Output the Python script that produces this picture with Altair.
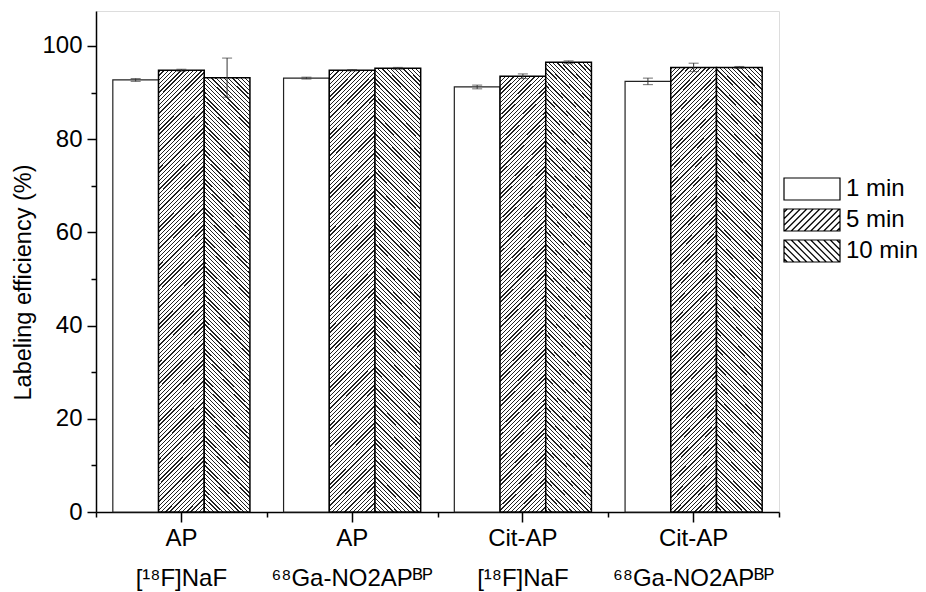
import altair as alt
import pandas as pd

# ---------------- data ----------------
groups = ["AP|[¹⁸F]NaF", "AP|⁶⁸Ga-NO2APᴮᴾ", "Cit-AP|[¹⁸F]NaF", "Cit-AP|⁶⁸Ga-NO2APᴮᴾ"]
series = ["1 min", "5 min", "10 min"]
eff_1 = [92.7, 93.1, 91.2, 92.4]
eff_5 = [94.8, 94.8, 93.5, 95.4]
eff_10 = [93.2, 95.2, 96.5, 95.4]
err_1 = [0.3, 0.2, 0.4, 0.7]
err_5 = [0.2, 0.15, 0.5, 0.9]
err_10 = [4.2, 0.2, 0.3, 0.2]
y_ticks = [0, 20, 40, 60, 80, 100]
y_minor = [10, 30, 50, 70, 90]

rows = []
for s, vals, errs in zip(series, [eff_1, eff_5, eff_10], [err_1, err_5, err_10]):
    for g, v, e in zip(groups, vals, errs):
        rows.append({"group": g, "series": s, "value": v, "lo": v - e, "hi": v + e})
df = pd.DataFrame(rows)

FONT = "Liberation Sans, Arial, DejaVu Sans"
FS = 24


# ---------------- hatch styles ----------------
def hatch_gradient(backslash, w=45.7, h=440.0, spacing=4.2, line=1.3):
    L = w + h
    lam = L / (w * w + h * h)
    stops = []
    k = 0
    while True:
        a = (k * spacing + 1.0) / L
        if a >= 1:
            break
        b = min(1.0, a + line / L)
        stops += [
            {"offset": a, "color": "#ffffff"},
            {"offset": a, "color": "#222222"},
            {"offset": b, "color": "#222222"},
            {"offset": b, "color": "#ffffff"},
        ]
        k += 1
    if backslash:
        return {"gradient": "linear", "x1": 0, "y1": 1, "x2": lam * w, "y2": 1 - lam * h, "stops": stops}
    return {"gradient": "linear", "x1": 0, "y1": 0, "x2": lam * w, "y2": lam * h, "stops": stops}


# legend symbols: path units are 14 px (symbol size 784 -> sqrt 28 -> half 14)
U = 14.0
BOX_W, BOX_H, HSTEP = 56.0, 22.0, 6.5


def legend_path(kind):
    hw, hh, step = BOX_W / 2 / U, BOX_H / 2 / U, HSTEP / U
    p = f"M{-hw:.4f},{-hh:.4f}H{hw:.4f}V{hh:.4f}H{-hw:.4f}Z"
    if kind == 0:
        return p
    c = -hw - hh + step / 2
    segs = []
    while c < hw + hh:
        xa = max(-hw, c - hh)
        xb = min(hw, c + hh)
        if xb - xa > 1e-3:
            if kind == 1:  # "/"
                segs.append(f"M{xa:.4f},{c - xa:.4f}L{xb:.4f},{c - xb:.4f}")
            else:  # "\"
                segs.append(f"M{xa:.4f},{xa - c:.4f}L{xb:.4f},{xb - c:.4f}")
        c += step
    return p + "".join(segs)


paths = [legend_path(0), legend_path(1), legend_path(2)]

# ---------------- encodings ----------------
x_scale = alt.Scale(domain=groups, paddingInner=0, paddingOuter=0)
y_scale = alt.Scale(domain=[0, 107.5], nice=False, zero=True)
xo = alt.XOffset("series:N", scale=alt.Scale(domain=series, paddingInner=0, paddingOuter=0.368))

x_axis = alt.Axis(
    title=None, orient="bottom", labelExpr="split(datum.label, '|')", labelAngle=0,
    labelFontSize=FS, labelFont=FONT, labelColor="black", labelLineHeight=40,
    labelPadding=4, tickSize=10, tickWidth=1.5, tickColor="black",
    domainColor="black", domainWidth=1.5, grid=False,
)
x_axis_minor = alt.Axis(
    title=None, orient="bottom", labels=False, domain=False, tickBand="extent",
    tickSize=5, tickWidth=1.5, tickColor="black", grid=False,
)
y_axis = alt.Axis(
    title="Labeling efficiency (%)", orient="left", values=y_ticks, tickSize=9,
    tickWidth=1.5, tickColor="black", domainColor="black", domainWidth=1.5,
    labelFontSize=FS, labelFont=FONT, labelColor="black", labelPadding=5, grid=False,
    titleFontSize=23.5, titleFont=FONT, titleFontWeight="normal", titleColor="black",
    titleX=-61, titleY=271,
)
y_axis_minor = alt.Axis(
    title=None, orient="left", labels=False, domain=False, values=y_minor,
    tickSize=5, tickWidth=1.5, tickColor="black", grid=False,
)

base = alt.Chart(df)
X_none = alt.X("group:N", scale=x_scale, axis=None)
Y_none = alt.Y("value:Q", scale=y_scale, axis=None)

minor = base.mark_bar(opacity=0).encode(
    x=alt.X("group:N", scale=x_scale, axis=x_axis_minor), xOffset=xo,
    y=alt.Y("value:Q", scale=y_scale, axis=y_axis_minor),
)
bars1 = base.transform_filter(alt.datum.series == "1 min").mark_bar(
    fill="white", stroke="#222222", strokeWidth=1.2
).encode(
    x=alt.X("group:N", scale=x_scale, axis=x_axis), xOffset=xo,
    y=alt.Y("value:Q", scale=y_scale, axis=y_axis),
)
bars5 = base.transform_filter(alt.datum.series == "5 min").mark_bar(
    fill=hatch_gradient(False), stroke="black", strokeWidth=1.5
).encode(x=X_none, xOffset=xo, y=Y_none)
bars10 = base.transform_filter(alt.datum.series == "10 min").mark_bar(
    fill=hatch_gradient(True), stroke="black", strokeWidth=1.5
).encode(x=X_none, xOffset=xo, y=Y_none)

err_rule = base.mark_rule(color="#333333", strokeWidth=1).encode(
    x=X_none, xOffset=xo, y=alt.Y("lo:Q", scale=y_scale, axis=None), y2="hi:Q"
)
cap_lo = base.mark_tick(color="#333333", size=10, thickness=1).encode(
    x=X_none, xOffset=xo, y=alt.Y("lo:Q", scale=y_scale, axis=None)
)
cap_hi = base.mark_tick(color="#333333", size=10, thickness=1).encode(
    x=X_none, xOffset=xo, y=alt.Y("hi:Q", scale=y_scale, axis=None)
)

legend_pts = base.mark_point(opacity=0).encode(
    x=X_none, xOffset=xo, y=Y_none,
    shape=alt.Shape(
        "series:N",
        scale=alt.Scale(domain=series, range=paths),
        legend=alt.Legend(
            title=None, orient="none", legendX=701, legendY=163, padding=0,
            symbolSize=784, symbolFillColor="white", symbolStrokeColor="black",
            symbolStrokeWidth=1.2, symbolOpacity=1, labelFontSize=FS, labelFont=FONT,
            labelColor="black", labelOffset=19, rowPadding=2,
        ),
    ),
)

chart = (
    alt.layer(minor, bars1, bars5, bars10, err_rule, cap_lo, cap_hi, legend_pts)
    .resolve_axis(x="independent", y="independent")
    .properties(
        width=683, height=501,
        autosize=alt.AutoSizeParams(type="none"),
        padding={"left": 96, "top": 11, "right": 147, "bottom": 80},
    )
    .configure_view(stroke="black", strokeWidth=1.5)
    .configure(font=FONT, background="white")
)

chart.save("out.html", embed_options={"renderer": "svg", "actions": False})
